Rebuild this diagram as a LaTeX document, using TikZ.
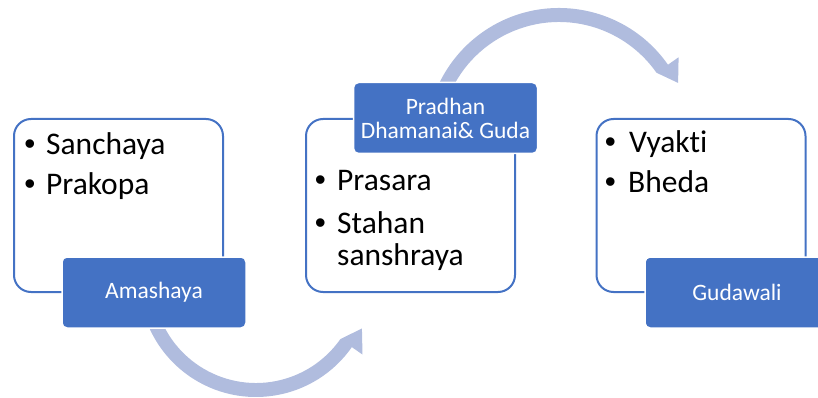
\documentclass[tikz,border=0pt]{standalone}
\usepackage{fontspec}
\setmainfont[Ligatures=NoCommon]{Carlito}
\newfontfamily\bulletfont{Liberation Sans}
\definecolor{accent}{RGB}{68,114,196}
\definecolor{arcfill}{RGB}{176,188,222}

\begin{document}
\begin{tikzpicture}[x=1pt,y=-1pt,
  card/.style={draw=accent,line width=2pt,fill=white,rounded corners=17pt,
    minimum width=209pt,minimum height=173pt,inner sep=0pt},
  tag/.style={draw=white,line width=1.5pt,fill=accent,rounded corners=5pt,
    minimum width=184pt,minimum height=71pt,inner sep=0pt,text=white,
    align=center,font=\fontsize{23.5}{24}\selectfont},
  item/.style={anchor=base west,inner sep=0pt,font=\fontsize{31.5}{32}\selectfont},
  dot/.style={anchor=base,inner sep=0pt,font=\bulletfont\fontsize{31.5}{32}\selectfont},
  bentarrow/.style={fill=arcfill}]
\useasboundingbox (0,0) rectangle (818,398);
% bent arrows first, the tags cover their tails
\coordinate (hubA) at (256,280);
\coordinate (hubB) at (559,141);
\begin{scope}[shift={(hubA)}]
\fill[bentarrow] (160:103) arc[start angle=160,end angle=35,radius=103]
  --(24.6:116.5)--(35:130)--(35:117)
  arc[start angle=35,end angle=160,radius=117]--cycle;
\end{scope}
\begin{scope}[shift={(hubB)}]
\fill[bentarrow] (-160:119) arc[start angle=-160,end angle=-35,radius=119]
  --(-26:132.5)--(-35:146)--(-35:133)
  arc[start angle=-35,end angle=-160,radius=133]--cycle;
\end{scope}
% cards
\node[card] (box1) at (118.5,205.5) {};
\node[card] (box2) at (410.5,205.5) {};
\node[card] (box3) at (701,205.5) {};
% bullet lists
\node[dot] (d11) at (30,154) {\textbullet};
\node[item] (t11) at (46,154) {Sanchaya};
\node[dot] (d12) at (30,194) {\textbullet};
\node[item] (t12) at (46,194) {Prakopa};
\node[dot] (d21) at (320.5,190) {\textbullet};
\node[item] (t21) at (337,190) {Prasara};
\node[dot] (d22) at (320.5,233) {\textbullet};
\node[item] (t22) at (337,233) {Stahan};
\node[item] (t23) at (337,265) {sanshraya};
\node[dot] (d31) at (610.5,153) {\textbullet};
\node[item] (t31) at (629,153) {Vyakti};
\node[dot] (d32) at (610.5,193) {\textbullet};
\node[item] (t32) at (628,193) {Bheda};
% tags
\node[tag] (tag1) at (154,292.5) {Amashaya};
\node[tag] (tag2) at (445.5,118) {Pradhan\\Dhamanai\& Guda};
\node[tag] (tag3) at (737,292.5) {Gudawali};
\end{tikzpicture}
\end{document}
